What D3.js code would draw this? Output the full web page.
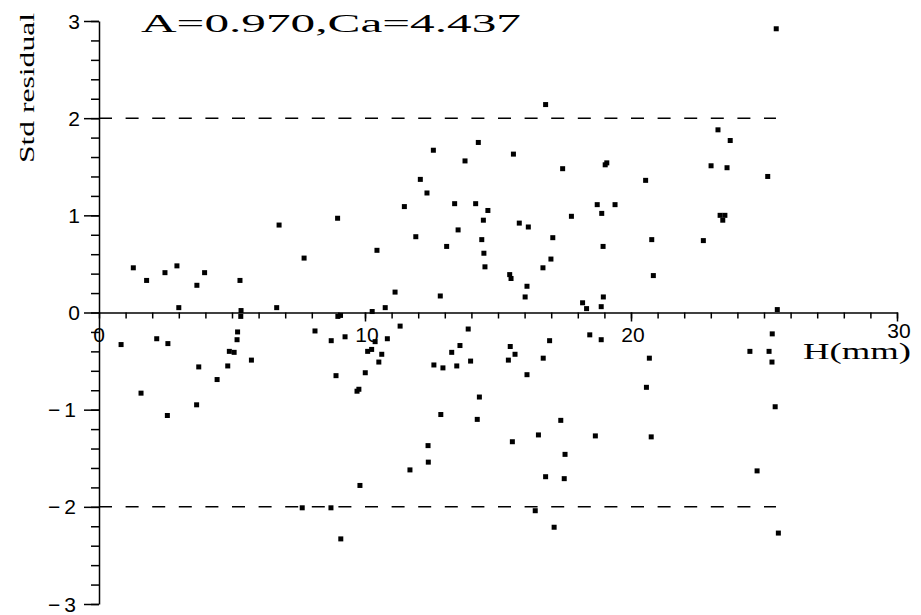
<!DOCTYPE html>
<html>
<head>
<meta charset="utf-8">
<script src="https://cdn.jsdelivr.net/npm/d3@7"></script>
<style>
  body { margin: 0; background: #fff; }
  svg { display: block; }
</style>
</head>
<body>
<script>
// H (mm) and standardised residual
const hValues = [1.29,1.79,2.48,2.93,3.97,3.68,5.30,7.71,10.45,3.00,5.34,5.33,6.68,8.98,9.08,10.27,10.76,0.83,2.17,2.59,
  5.21,5.19,8.12,8.73,9.25,10.38,10.84,4.90,5.08,5.73,3.75,4.84,4.44,8.91,10.01,10.10,10.25,10.63,10.52,9.77,
  9.70,1.58,2.57,3.67,7.64,8.72,9.09,9.81,6.77,8.97,
  16.79,14.26,12.57,15.58,13.76,17.43,19.03,19.09,20.55,12.08,12.33,11.48,13.37,14.16,14.62,18.73,19.40,18.90,14.45,15.80,
  16.14,17.76,13.50,11.91,13.07,14.39,17.06,18.95,20.78,14.47,14.51,16.99,16.69,15.44,15.49,20.84,11.13,12.83,16.09,16.02,
  18.18,18.33,18.96,18.88,
  11.32,13.88,18.45,18.88,13.57,16.94,15.46,13.26,15.64,20.69,16.70,
  12.59,12.93,13.45,13.97,15.39,16.09,20.58,14.30,12.85,14.22,17.36,16.52,18.66,20.76,15.54,17.52,12.37,12.38,11.69,16.79,
  17.49,16.40,17.11,
  25.46,23.27,23.73,23.01,23.61,25.14,23.35,23.53,23.45,22.72,25.50,25.31,24.47,25.19,25.30,25.42,24.74,25.54];

const stdResiduals = [0.46,0.33,0.41,0.48,0.41,0.28,0.33,0.56,0.64,0.05,0.02,-0.04,0.05,-0.04,-0.03,0.01,0.05,-0.33,-0.27,-0.32,
  -0.20,-0.28,-0.19,-0.29,-0.25,-0.30,-0.27,-0.40,-0.41,-0.49,-0.56,-0.55,-0.69,-0.65,-0.62,-0.40,-0.38,-0.43,-0.51,-0.79,
  -0.81,-0.83,-1.06,-0.95,-2.01,-2.01,-2.33,-1.78,0.90,0.97,
  2.14,1.75,1.67,1.63,1.56,1.48,1.52,1.54,1.36,1.37,1.23,1.09,1.12,1.12,1.05,1.11,1.11,1.02,0.95,0.92,
  0.88,0.99,0.85,0.78,0.68,0.75,0.77,0.68,0.75,0.61,0.47,0.55,0.46,0.39,0.35,0.38,0.21,0.17,0.27,0.16,
  0.10,0.04,0.16,0.06,
  -0.14,-0.17,-0.23,-0.28,-0.34,-0.29,-0.35,-0.41,-0.43,-0.47,-0.47,
  -0.54,-0.57,-0.55,-0.50,-0.49,-0.64,-0.77,-0.87,-1.05,-1.10,-1.11,-1.26,-1.27,-1.28,-1.33,-1.46,-1.37,-1.54,-1.62,-1.69,
  -1.71,-2.04,-2.21,
  2.92,1.88,1.77,1.51,1.49,1.40,1.00,1.00,0.95,0.74,0.03,-0.22,-0.40,-0.40,-0.51,-0.97,-1.63,-2.27];

const xTicks = [0, 10, 20, 30];
const xTickLabels = ["0", "10", "20", "30"];
const yTicks = [-3, -2, -1, 0, 1, 2, 3];
const yTickLabels = ["\u22123", "\u22122", "\u22121", "0", "1", "2", "3"];
const limitLines = [2, -2];
const titleText = "A=0.970,Ca=4.437";

const width = 921, height = 615;

const x = d3.scaleLinear().domain([0, 30]).range([99, 897]);
const y = d3.scaleLinear().domain([-3, 3]).range([604, 21]);

const svg = d3.select("body").append("svg")
  .attr("width", width)
  .attr("height", height)
  .style("background", "#fff");

// dashed +/-2 limits
svg.selectAll(".limit")
  .data(limitLines)
  .enter().append("line")
  .attr("class", "limit")
  .attr("x1", x(0)).attr("x2", x(25.45))
  .attr("y1", d => y(d)).attr("y2", d => y(d))
  .attr("stroke", "#000")
  .attr("stroke-width", 1.5)
  .attr("stroke-dasharray", "13,13.6");

// x axis sits on residual = 0
const xMinor = svg.append("g")
  .attr("transform", `translate(0,${y(0)})`)
  .call(d3.axisBottom(x).tickValues(d3.range(0, 31)).tickSize(6).tickSizeOuter(0).tickFormat(""));
const xMajor = svg.append("g")
  .attr("transform", `translate(0,${y(0)})`)
  .call(d3.axisBottom(x).tickValues(xTicks.slice(1)).tickSize(9).tickSizeOuter(0).tickFormat(""));
xMajor.select(".domain").remove();

// y axis
const yMinor = svg.append("g")
  .attr("transform", `translate(${x(0)},0)`)
  .call(d3.axisLeft(y).tickValues(d3.range(-15, 16).map(d => d / 5)).tickSize(8).tickSizeOuter(0).tickFormat(""));
const yMajor = svg.append("g")
  .attr("transform", `translate(${x(0)},0)`)
  .call(d3.axisLeft(y).tickValues(yTicks).tickSize(15).tickSizeOuter(0).tickFormat(""));
yMajor.select(".domain").remove();

svg.selectAll(".domain, .tick line")
  .attr("stroke", "#000")
  .attr("stroke-width", 1.5);

// tick labels
svg.selectAll(".ylab")
  .data(yTicks)
  .enter().append("text")
  .attr("class", "ylab")
  .attr("x", 80)
  .attr("y", d => y(d) + 7.5)
  .attr("text-anchor", "end")
  .attr("font-family", "Liberation Sans, Arial, sans-serif")
  .attr("font-size", 21)
  .attr("letter-spacing", (d, i) => yTickLabels[i].length > 1 ? 4 : 0)
  .text((d, i) => yTickLabels[i]);

svg.selectAll(".xlab")
  .data(xTicks)
  .enter().append("text")
  .attr("class", "xlab")
  .attr("x", d => x(d) + (d === 0 ? 0 : 2))
  .attr("y", d => d === 30 ? 338 : 342)
  .attr("text-anchor", "middle")
  .attr("font-family", "Liberation Sans, Arial, sans-serif")
  .attr("font-size", 21)
  .text((d, i) => xTickLabels[i]);

// axis titles
svg.append("text")
  .attr("x", 803).attr("y", 359)
  .attr("font-family", "Liberation Serif, Times New Roman, serif")
  .attr("font-size", 23)
  .attr("textLength", 108)
  .attr("lengthAdjust", "spacingAndGlyphs")
  .text("H(mm)");

svg.append("text")
  .attr("transform", "translate(34,88) rotate(-90)")
  .attr("text-anchor", "middle")
  .attr("font-family", "Liberation Serif, Times New Roman, serif")
  .attr("font-size", 22)
  .attr("textLength", 150)
  .attr("lengthAdjust", "spacingAndGlyphs")
  .text("Std residual");

svg.append("text")
  .attr("x", 141).attr("y", 32)
  .attr("font-family", "Liberation Serif, Times New Roman, serif")
  .attr("font-size", 25)
  .attr("textLength", 380)
  .attr("lengthAdjust", "spacingAndGlyphs")
  .text(titleText);

// points
const points = hValues.map((h, i) => ({ h: h, r: stdResiduals[i] }));
svg.selectAll(".pt")
  .data(points)
  .enter().append("rect")
  .attr("class", "pt")
  .attr("x", d => x(d.h) - 2.5)
  .attr("y", d => y(d.r) - 2.5)
  .attr("width", 5)
  .attr("height", 5)
  .attr("fill", "#000");
</script>
</body>
</html>
